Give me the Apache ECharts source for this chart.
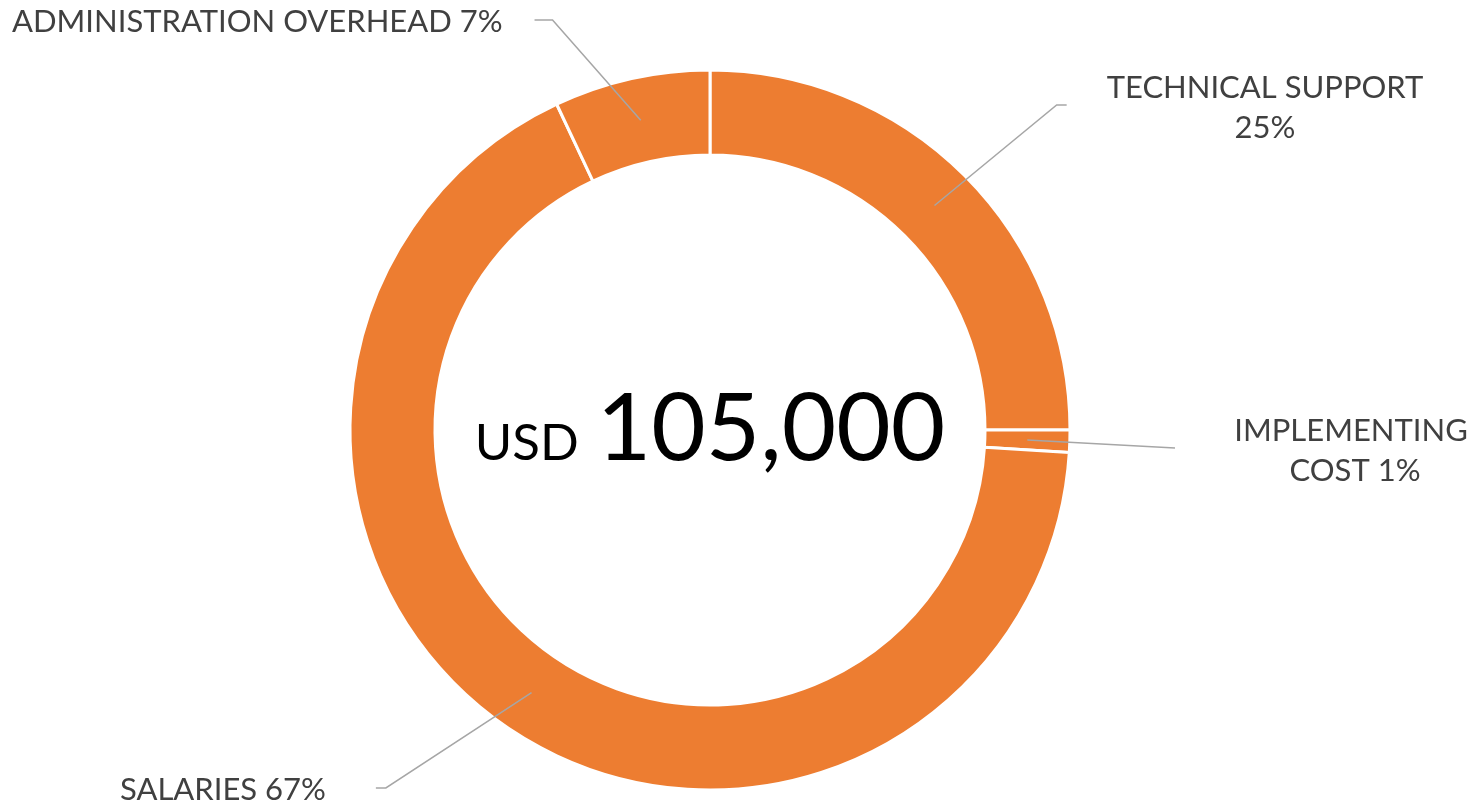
<!DOCTYPE html>
<html>
<head>
<meta charset="utf-8">
<script src="https://cdn.jsdelivr.net/npm/echarts@6/dist/echarts.min.js"></script>
<style>
html,body{margin:0;padding:0;background:#ffffff;}
#chart{width:1483px;height:804px;}
</style>
</head>
<body>
<div id="chart"></div>
<script>
const categories = ['TECHNICAL SUPPORT', 'IMPLEMENTING COST', 'SALARIES', 'ADMINISTRATION OVERHEAD'];
const values = [26250, 1050, 70350, 7350];
const currency = 'USD';

// label anchor placement (layout only)
const labelPos = [
  {x: 1265, y: 108, align: 'center', lineBreak: true, side: 1, gap: 40, tail: 10, lineY: 105},
  {x: 1355, y: 451, align: 'center', width: 260, side: 1, gap: 50, tail: 0, lineY: 448},
  {x: 120, y: 790, align: 'left', side: -1, gap: 50, tail: 10, lineY: 788},
  {x: 12, y: 22, align: 'left', side: -1, gap: 32, tail: 18, lineY: 20}
];

const CX = 710, CY = 430, R0 = 275, R1 = 360;
const total = values.reduce((a, b) => a + b, 0);
const FONT = 'Lato, "Open Sans", sans-serif';

// mid angles (clockwise from 12 o'clock) derived from the data
const midAngles = [];
(function () {
  let acc = 0;
  values.forEach(v => {
    midAngles.push((acc + v / 2) / total * Math.PI * 2);
    acc += v;
  });
})();

const chart = echarts.init(document.getElementById('chart'), null, {renderer: 'canvas'});

const ringData = categories.map((c, i) => ({name: c, value: values[i]}));
const labelData = categories.map((c, i) => {
  const p = labelPos[i];
  const item = {name: c, value: values[i]};
  item.label = {
    formatter: p.lineBreak ? '{b}\n{d}%' : '{b} {d}%',
    align: p.align
  };
  if (p.width) {
    item.label.width = p.width;
    item.label.overflow = 'break';
  }
  return item;
});

chart.setOption({
  backgroundColor: '#ffffff',
  animation: false,
  graphic: [{
    type: 'text',
    x: 710,
    y: 430,
    z: 10,
    style: {
      text: '{a|' + currency + '}{s| }{b|' + total.toLocaleString('en-US') + '}',
      align: 'center',
      verticalAlign: 'middle',
      rich: {
        a: {fontSize: 51, fontFamily: 'Lato, sans-serif', color: '#000000', padding: [28, 0, 0, 0]},
        s: {fontSize: 51, width: 18},
        b: {fontSize: 94, fontFamily: 'Lato, sans-serif', color: '#000000'}
      }
    }
  }],
  series: [{
    // the orange ring
    type: 'pie',
    z: 2,
    silent: true,
    center: [CX, CY],
    radius: [R0, R1],
    startAngle: 90,
    clockwise: true,
    avoidLabelOverlap: false,
    itemStyle: {color: '#ED7D31', borderColor: '#ffffff', borderWidth: 3},
    label: {show: false},
    labelLine: {show: false},
    data: ringData
  }, {
    // transparent overlay carrying labels and leader lines above the ring
    type: 'pie',
    z: 5,
    silent: true,
    center: [CX, CY],
    radius: [R0, R1],
    startAngle: 90,
    clockwise: true,
    percentPrecision: 0,
    avoidLabelOverlap: false,
    itemStyle: {color: 'rgba(0,0,0,0)', borderWidth: 0},
    label: {
      show: true,
      position: 'outside',
      color: '#404040',
      fontSize: 31,
      fontFamily: FONT,
      lineHeight: 40
    },
    labelLine: {
      show: true,
      showAbove: true,
      length: 20,
      length2: 12,
      lineStyle: {color: '#A6A6A6', width: 1.5}
    },
    labelLayout: function (params) {
      const i = params.dataIndex;
      const p = labelPos[i];
      const w = params.labelRect.width;
      const a = midAngles[i];
      const rm = (R0 + R1) / 2;
      const start = [CX + rm * Math.sin(a), CY - rm * Math.cos(a)];
      let edge;
      if (p.align === 'center') edge = p.side > 0 ? p.x - w / 2 : p.x + w / 2;
      else edge = p.side > 0 ? p.x : p.x + w;
      const end = [edge - p.side * p.gap, p.lineY];
      const bend = [end[0] - p.side * p.tail, p.lineY];
      return {
        x: p.x, y: p.y, align: p.align, verticalAlign: 'middle',
        labelLinePoints: [start, bend, end]
      };
    },
    data: labelData
  }]
});
</script>
</body>
</html>
